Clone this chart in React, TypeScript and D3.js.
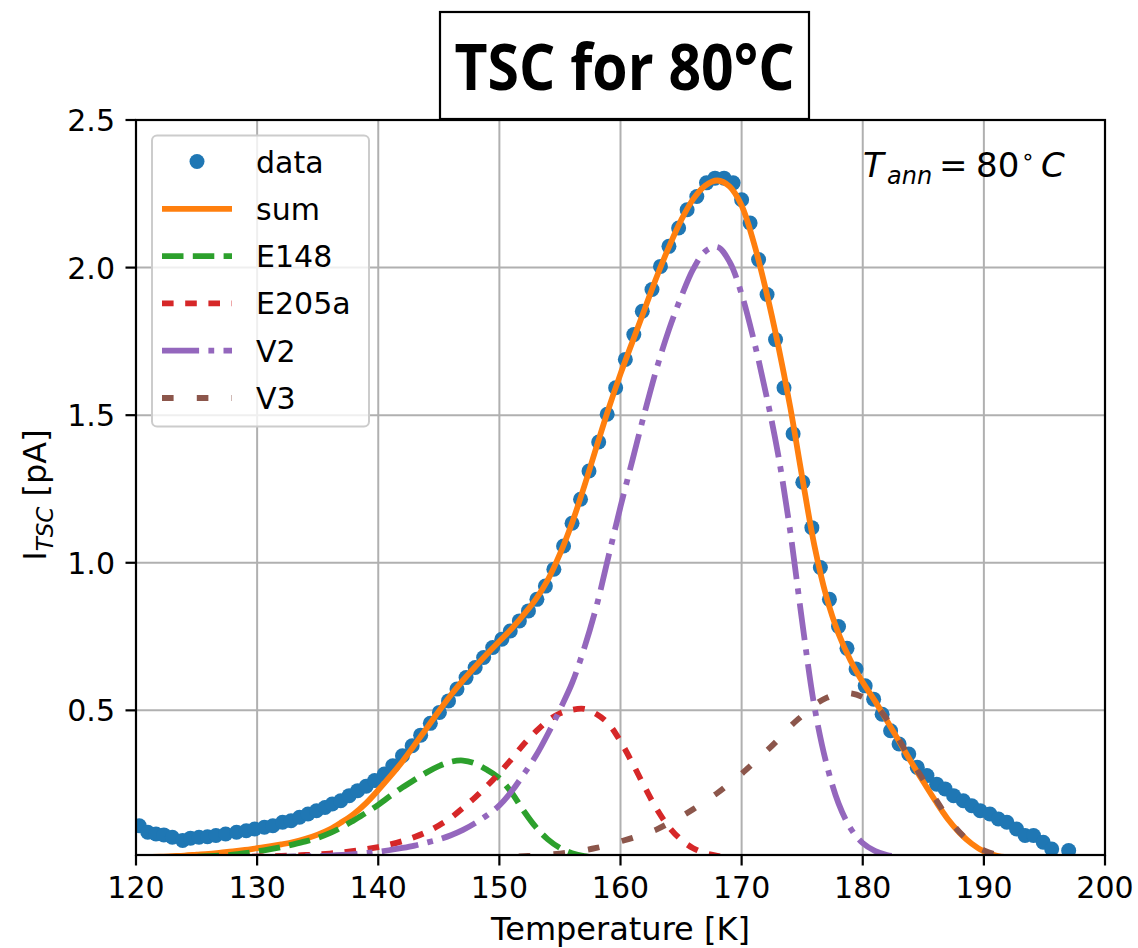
import React from "react";
import * as d3 from "d3";

// ---------- data ----------
const TEMP_DATA = [
  120.27, 120.97, 121.65, 122.3, 123.0, 123.85, 124.5, 125.2, 125.9, 126.6,
  127.4, 128.3, 129.1, 129.8, 130.6, 131.3, 132.1, 132.8, 133.5, 134.2,
  134.9, 135.6, 136.2, 136.9, 137.6, 138.3, 139.0, 139.7, 140.5, 141.2,
  142.0, 142.8, 143.5, 144.3, 145.05, 145.8, 146.5, 147.25, 148.0, 148.7,
  149.45, 150.2, 150.9, 151.65, 152.4, 153.1, 153.8, 154.5, 155.3, 156.0,
  156.7, 157.4, 158.2, 158.9, 159.6, 160.4, 161.1, 161.8, 162.6, 163.3,
  164.0, 164.8, 165.5, 166.3, 167.1, 167.8, 168.55, 169.3, 170.0, 170.7,
  171.4, 172.1, 172.8, 173.5, 174.25, 175.05, 175.8, 176.5, 177.25, 178.0,
  178.7, 179.45, 180.2, 180.9, 181.6, 182.3, 183.0, 183.8, 184.5, 185.3,
  186.1, 186.8, 187.5, 188.3, 189.0, 189.7, 190.5, 191.2, 191.9, 192.7,
  193.4, 194.1, 194.9, 195.6, 197.0,
];
const I_DATA = [
  0.109, 0.087, 0.081, 0.078, 0.07, 0.059, 0.067, 0.07, 0.072, 0.076,
  0.081, 0.087, 0.092, 0.098, 0.104, 0.109, 0.121, 0.126, 0.138, 0.149,
  0.16, 0.171, 0.183, 0.194, 0.211, 0.228, 0.243, 0.262, 0.284, 0.312,
  0.346, 0.38, 0.416, 0.456, 0.493, 0.532, 0.572, 0.611, 0.645, 0.679,
  0.713, 0.741, 0.769, 0.803, 0.837, 0.876, 0.921, 0.978, 1.057, 1.134,
  1.215, 1.311, 1.409, 1.503, 1.593, 1.689, 1.773, 1.852, 1.926, 2.004,
  2.072, 2.134, 2.196, 2.241, 2.287, 2.303, 2.303, 2.287, 2.23, 2.151,
  2.027, 1.909, 1.756, 1.593, 1.437, 1.273, 1.119, 0.984, 0.876, 0.784,
  0.71, 0.64, 0.583, 0.538, 0.487, 0.431, 0.386, 0.352, 0.307, 0.279,
  0.25, 0.234, 0.211, 0.194, 0.177, 0.16, 0.149, 0.132, 0.121, 0.098,
  0.076, 0.076, 0.053, 0.03, 0.025,
];

const TEMP_FIT = [
  120, 121, 122, 123, 124, 125, 126, 127, 128, 129,
  130, 131, 132, 133, 134, 135, 136, 137, 138, 139,
  140, 141, 142, 143, 144, 145, 146, 147, 148, 149,
  150, 151, 152, 153, 154, 155, 156, 157, 158, 159,
  160, 161, 162, 163, 164, 165, 166, 167, 168, 169,
  170, 171, 172, 173, 174, 175, 176, 177, 178, 179,
  180, 181, 182, 183, 184, 185, 186, 187, 188, 189,
  190, 191, 192, 193, 194, 195,
];
const I_SUM = [
  0.002, 0.003, 0.004, 0.006, 0.008, 0.011, 0.014, 0.018, 0.022, 0.027,
  0.033, 0.039, 0.046, 0.054, 0.065, 0.079, 0.097, 0.122, 0.15, 0.186,
  0.23, 0.277, 0.327, 0.383, 0.44, 0.497, 0.552, 0.602, 0.648, 0.692,
  0.734, 0.776, 0.824, 0.876, 0.942, 1.03, 1.135, 1.258, 1.39, 1.52,
  1.64, 1.75, 1.86, 1.97, 2.07, 2.16, 2.232, 2.278, 2.295, 2.275,
  2.21, 2.085, 1.925, 1.74, 1.53, 1.29, 1.06, 0.885, 0.76, 0.668,
  0.595, 0.532, 0.465, 0.395, 0.325, 0.258, 0.193, 0.133, 0.085, 0.048,
  0.022, 0.008, 0.002, 0.0, 0.0, 0.0,
];
const I_E148 = [
  0.0, 0.0, 0.001, 0.001, 0.002, 0.004, 0.006, 0.008, 0.011, 0.016,
  0.022, 0.029, 0.037, 0.046, 0.056, 0.068, 0.084, 0.104, 0.128, 0.153,
  0.18, 0.21, 0.239, 0.265, 0.29, 0.311, 0.326, 0.33, 0.32, 0.298,
  0.27, 0.222, 0.16, 0.105, 0.063, 0.034, 0.016, 0.006, 0.002, 0.0,
  0.0, 0.0, 0.0, 0.0, 0.0, 0.0, 0.0, 0.0, 0.0, 0.0,
  0.0, 0.0, 0.0, 0.0, 0.0, 0.0, 0.0, 0.0, 0.0, 0.0,
  0.0, 0.0, 0.0, 0.0, 0.0, 0.0, 0.0, 0.0, 0.0, 0.0,
  0.0, 0.0, 0.0, 0.0, 0.0, 0.0,
];
const I_E205A = [
  0.0, 0.0, 0.001, 0.001, 0.001, 0.002, 0.002, 0.003, 0.003, 0.004,
  0.005, 0.006, 0.007, 0.008, 0.01, 0.012, 0.015, 0.019, 0.024, 0.03,
  0.037, 0.046, 0.057, 0.071, 0.088, 0.11, 0.136, 0.17, 0.205, 0.245,
  0.288, 0.335, 0.385, 0.428, 0.465, 0.49, 0.502, 0.505, 0.488, 0.455,
  0.395, 0.32, 0.24, 0.165, 0.105, 0.062, 0.033, 0.016, 0.007, 0.003,
  0.001, 0.0, 0.0, 0.0, 0.0, 0.0, 0.0, 0.0, 0.0, 0.0,
  0.0, 0.0, 0.0, 0.0, 0.0, 0.0, 0.0, 0.0, 0.0, 0.0,
  0.0, 0.0, 0.0, 0.0, 0.0, 0.0,
];
const I_V2 = [
  0.0, 0.0, 0.0, 0.0, 0.001, 0.001, 0.001, 0.001, 0.002, 0.002,
  0.003, 0.003, 0.004, 0.005, 0.006, 0.007, 0.008, 0.01, 0.013, 0.017,
  0.021, 0.027, 0.034, 0.042, 0.052, 0.063, 0.077, 0.095, 0.118, 0.145,
  0.178, 0.225, 0.283, 0.345, 0.42, 0.503, 0.592, 0.71, 0.85, 1.02,
  1.19, 1.35, 1.51, 1.66, 1.79, 1.9, 1.995, 2.055, 2.07, 2.02,
  1.91, 1.755, 1.575, 1.37, 1.11, 0.8, 0.515, 0.32, 0.185, 0.1,
  0.05, 0.024, 0.01, 0.004, 0.001, 0.0, 0.0, 0.0, 0.0, 0.0,
  0.0, 0.0, 0.0, 0.0, 0.0, 0.0,
];
const I_V3 = [
  0.0, 0.0, 0.0, 0.0, 0.0, 0.0, 0.0, 0.0, 0.0, 0.0,
  0.0, 0.0, 0.0, 0.0, 0.0, 0.0, 0.0, 0.0, 0.0, 0.0,
  0.0, 0.0, 0.0, 0.0, 0.0, 0.001, 0.001, 0.001, 0.002, 0.002,
  0.003, 0.004, 0.006, 0.008, 0.011, 0.015, 0.02, 0.026, 0.034, 0.044,
  0.056, 0.068, 0.082, 0.097, 0.118, 0.14, 0.165, 0.192, 0.22, 0.252,
  0.285, 0.322, 0.36, 0.4, 0.445, 0.482, 0.518, 0.542, 0.556, 0.558,
  0.545, 0.518, 0.47, 0.4, 0.33, 0.265, 0.2, 0.138, 0.087, 0.05,
  0.026, 0.012, 0.005, 0.002, 0.0, 0.0,
];

const X_TICKS = [120, 130, 140, 150, 160, 170, 180, 190, 200];
const Y_TICKS = [0.5, 1.0, 1.5, 2.0, 2.5];
const Y_TICK_LABELS = ["0.5", "1.0", "1.5", "2.0", "2.5"];

const SERIES_NAMES = ["sum", "E148", "E205a", "V2", "V3"];
const SERIES_VALUES = [I_SUM, I_E148, I_E205A, I_V2, I_V3];
const SERIES_COLORS = ["#ff7f0e", "#2ca02c", "#d62728", "#9467bd", "#8c564b"];
const SERIES_DASH = ["", "21.5 9.3", "11.6 11.6", "37.1 9.3 5.8 9.3", "11.6 23.2"];

// ---------- layout ----------
const W = 1138;
const H = 948;
const PL = 136;
const PR = 1105;
const PT = 120;
const PB = 855;
const LW = 5.8;
const FONT = "'DejaVu Sans', sans-serif";

export default function App() {
  const x = d3.scaleLinear().domain([120, 200]).range([PL, PR]);
  const y = d3.scaleLinear().domain([0.01, 2.5]).range([PB, PT]);

  const makeLine = (vals: number[]) =>
    d3
      .line<number>()
      .x((_, i) => x(TEMP_FIT[i]))
      .y((d) => y(d))
      .curve(d3.curveCatmullRom)(vals) || "";

  const legendX0 = 162;
  const legendX1 = 232;
  const legendTextX = 256;
  const legendY0 = 161.5;
  const legendStep = 47.3;

  return (
    <svg
      width={W}
      height={H}
      viewBox={`0 0 ${W} ${H}`}
      style={{ position: "absolute", left: 0, top: 0, display: "block", background: "#fff" }}
    >
      <defs>
        <clipPath id="plotclip">
          <rect x={PL} y={PT} width={PR - PL} height={PB - PT} />
        </clipPath>
      </defs>
      <rect x={0} y={0} width={W} height={H} fill="#fff" />

      {/* grid */}
      <g stroke="#b0b0b0" strokeWidth={2}>
        {X_TICKS.map((t) => (
          <line key={"gx" + t} x1={x(t)} x2={x(t)} y1={PT} y2={PB} />
        ))}
        {Y_TICKS.map((t) => (
          <line key={"gy" + t} x1={PL} x2={PR} y1={y(t)} y2={y(t)} />
        ))}
      </g>

      {/* data + fits */}
      <g clipPath="url(#plotclip)">
        {TEMP_DATA.map((t, i) => (
          <circle key={"d" + i} cx={x(t)} cy={y(I_DATA[i])} r={7.5} fill="#1f77b4" />
        ))}
        {SERIES_VALUES.map((vals, k) => (
          <path
            key={"s" + k}
            d={makeLine(vals)}
            fill="none"
            stroke={SERIES_COLORS[k]}
            strokeWidth={LW}
            strokeDasharray={SERIES_DASH[k] || undefined}
            strokeLinecap="butt"
            strokeLinejoin="round"
          />
        ))}
      </g>

      {/* spines */}
      <rect x={PL} y={PT} width={PR - PL} height={PB - PT} fill="none" stroke="#000" strokeWidth={2.2} />

      {/* ticks */}
      <g fontFamily={FONT} fontSize={30} fill="#000">
        {X_TICKS.map((t) => (
          <g key={"tx" + t}>
            <line x1={x(t)} x2={x(t)} y1={PB} y2={PB + 10.5} stroke="#000" strokeWidth={2.2} />
            <text x={x(t)} y={PB + 43} textAnchor="middle">
              {t}
            </text>
          </g>
        ))}
        {Y_TICKS.map((t, i) => (
          <g key={"ty" + t}>
            <line x1={PL - 10.5} x2={PL} y1={y(t)} y2={y(t)} stroke="#000" strokeWidth={2.2} />
            <text x={PL - 21} y={y(t) + 11} textAnchor="end">
              {Y_TICK_LABELS[i]}
            </text>
          </g>
        ))}
      </g>

      {/* axis labels */}
      <text x={(PL + PR) / 2} y={940} textAnchor="middle" fontFamily={FONT} fontSize={32}>
        Temperature [K]
      </text>
      <text transform="translate(46,495) rotate(-90)" textAnchor="middle" fontFamily={FONT} fontSize={32}>
        I
        <tspan fontSize={23} fontStyle="italic" dy={7}>
          TSC
        </tspan>
        <tspan dy={-7}> [pA]</tspan>
      </text>

      {/* annotation */}
      <g fontFamily={FONT} fontSize={34} fill="#000">
        <text x={863} y={177} fontStyle="italic">T</text>
        <text x={887} y={184} fontStyle="italic" fontSize={24}>ann</text>
        <text x={939} y={177}>=</text>
        <text x={976} y={177}>80</text>
        <text x={1021} y={164} fontSize={22}>∘</text>
        <text x={1041} y={177} fontStyle="italic">C</text>
      </g>

      {/* legend */}
      <g>
        <rect x={152} y={135.5} width={217} height={291} rx={5} ry={5} fill="#fff" fillOpacity={0.8} stroke="#cccccc" strokeWidth={2} />
        <circle cx={(legendX0 + legendX1) / 2} cy={legendY0} r={7.5} fill="#1f77b4" />
        <text x={legendTextX} y={legendY0 + 11} fontFamily={FONT} fontSize={30}>
          data
        </text>
        {SERIES_NAMES.map((name, k) => {
          const yy = legendY0 + legendStep * (k + 1);
          return (
            <g key={"lg" + k}>
              <line
                x1={legendX0}
                x2={legendX1}
                y1={yy}
                y2={yy}
                stroke={SERIES_COLORS[k]}
                strokeWidth={LW}
                strokeDasharray={SERIES_DASH[k] || undefined}
              />
              <text x={legendTextX} y={yy + 11} fontFamily={FONT} fontSize={30}>
                {name}
              </text>
            </g>
          );
        })}
      </g>

      {/* title */}
      <rect x={440} y={12} width={369} height={107} fill="#fff" stroke="#000" strokeWidth={2.2} />
      <text
        x={624.5}
        y={90}
        textAnchor="middle"
        fontFamily="'Open Sans', 'Noto Sans', sans-serif"
        fontWeight={700}
        fontSize={64}
        textLength={340}
        lengthAdjust="spacingAndGlyphs"
      >
        TSC for 80°C
      </text>
    </svg>
  );
}
